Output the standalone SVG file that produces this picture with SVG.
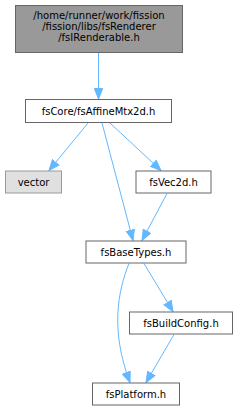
<svg xmlns="http://www.w3.org/2000/svg" width="239" height="411" viewBox="0 0 239 411">
<style>
.n rect{fill:#ffffff;stroke:#666666;stroke-width:1}
.n text{font-family:"DejaVu Sans","Liberation Sans",sans-serif;font-size:10px;text-anchor:middle;fill:#000000}
.e path{fill:none;stroke:#63b8ff;stroke-width:1;marker-end:url(#ah)}
</style>
<defs>
<marker id="ah" markerUnits="userSpaceOnUse" markerWidth="12" markerHeight="10" refX="11" refY="5" orient="auto">
<path d="M0.5,0.8 L11,5 L0.5,9.2 z" fill="#63b8ff" stroke="#63b8ff" stroke-width="1"/>
</marker>
</defs>
<g id="edges" class="e">
<path d="M98.5,52.5 L98.5,99"/>
<path d="M88,123 L49,170.5"/>
<path d="M110,123 L161,170.5"/>
<path d="M102,123 L133,240.5"/>
<path d="M167,193.5 L142,240.5"/>
<path d="M129,263.5 C118,291 110,330 130,382.5"/>
<path d="M144,263.5 L173,311.5"/>
<path d="M174,334.5 L146,382.5"/>
</g>
<g id="node1" class="n">
<rect x="15.5" y="5.5" width="167" height="47" style="fill:#999999"/>
<text x="99" y="19">/home/runner/work/fission</text>
<text x="99" y="30">/fission/libs/fsRenderer</text>
<text x="99" y="41">/fsIRenderable.h</text>
</g>
<g id="node2" class="n">
<rect x="25.5" y="99.5" width="146" height="23"/>
<text x="98.5" y="115">fsCore/fsAffineMtx2d.h</text>
</g>
<g id="node3" class="n">
<rect x="5.5" y="171" width="56" height="22" style="fill:#e0e0e0;stroke:#999999"/>
<text x="33.5" y="186">vector</text>
</g>
<g id="node4" class="n">
<rect x="136" y="171" width="75" height="22"/>
<text x="173.5" y="186">fsVec2d.h</text>
</g>
<g id="node5" class="n">
<rect x="86" y="241" width="100" height="22"/>
<text x="136" y="256">fsBaseTypes.h</text>
</g>
<g id="node6" class="n">
<rect x="129.5" y="312" width="103" height="22"/>
<text x="181" y="327">fsBuildConfig.h</text>
</g>
<g id="node7" class="n">
<rect x="92.5" y="383" width="87" height="22"/>
<text x="136" y="398">fsPlatform.h</text>
</g>
</svg>
